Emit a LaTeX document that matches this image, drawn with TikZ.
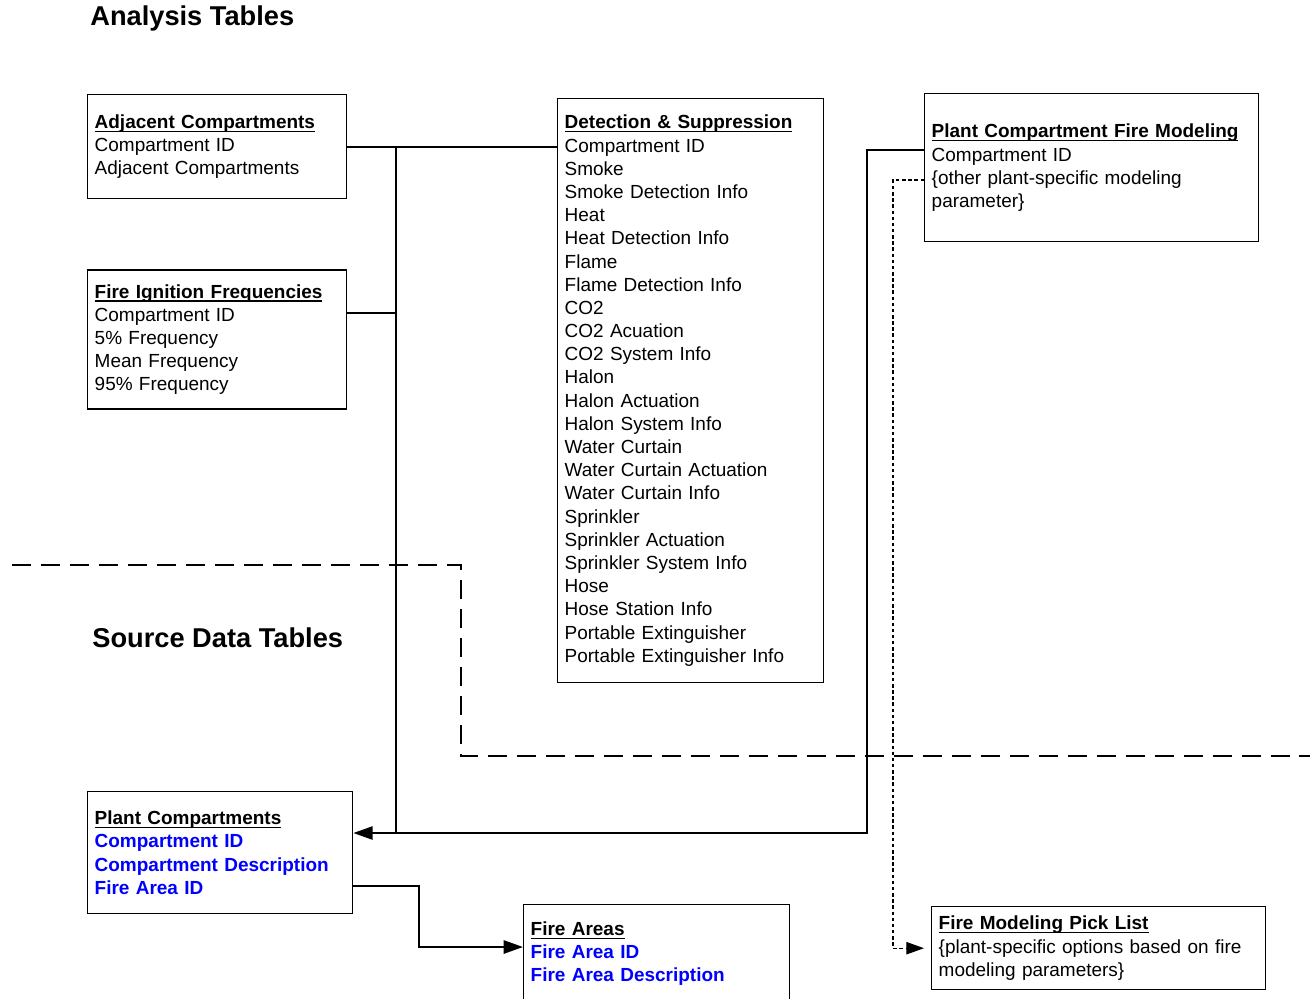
\documentclass[tikz,border=0pt]{standalone}
\usepackage{fontspec}
\setmainfont{Liberation Sans}
\usepackage{xcolor}
\usepackage{tikz}
\usetikzlibrary{arrows.meta, calc}

\definecolor{keyblue}{RGB}{0,0,255}
\newcommand{\tabfont}{\fontsize{10.8}{13.2}\selectfont}
\newcommand{\hd}[1]{\sbox0{\textbf{#1}}\rlap{\rule[-2pt]{\wd0}{0.8pt}}\usebox0}
\newcommand{\fld}[1]{\textcolor{keyblue}{\textbf{#1}}}

\begin{document}
\begin{tikzpicture}[x=0.02cm, y=-0.02cm,
    table/.style={draw, line width=0.8pt, anchor=north west, align=left,
        inner xsep=0.14cm, inner ysep=0pt, font=\tabfont},
    link/.style={line width=1.2pt},
    pick/.style={line width=0.6pt, dash pattern=on 2pt off 1.5pt},
    bigtip/.style={-{Triangle[length=11pt, width=7.5pt]}},
    smalltip/.style={-{Triangle[length=10pt, width=7pt]}, shorten >=4pt},
    title/.style={anchor=west, inner sep=0pt, font=\fontsize{15.5}{18}\selectfont\bfseries}]
    \useasboundingbox (0,0) rectangle (1310,998);

    % titel
    \node[title] (ana) at (90,18) {Analysis Tables};
    \node[title] (src) at (92,638) {Source Data Tables};

    % grens tussen analyse- en brontabellen
    \draw[line width=1.1pt, dash pattern=on 11pt off 5.5pt]
        (12,565) -- (461,565) -- (461,756) -- (1310,756);

    % analysetabellen
    \node[table, text width=4.90cm, minimum width=5.18cm, minimum height=2.08cm] (adj) at (87,94)
        {\hd{Adjacent Compartments}\\Compartment ID\\Adjacent Compartments};
    \node[table, text width=4.90cm, minimum width=5.18cm, minimum height=2.78cm] (fif) at ($(adj.south west)+(0,70)$)
        {\hd{Fire Ignition Frequencies}\\Compartment ID\\5\% Frequency\\Mean Frequency\\95\% Frequency};
    \node[table, text width=5.04cm, minimum width=5.32cm, minimum height=11.68cm] (det) at (557,98)
        {\hd{Detection \& Suppression}\\Compartment ID\\Smoke\\Smoke Detection Info\\Heat\\
         Heat Detection Info\\Flame\\Flame Detection Info\\CO2\\CO2 Acuation\\CO2 System Info\\
         Halon\\Halon Actuation\\Halon System Info\\Water Curtain\\Water Curtain Actuation\\
         Water Curtain Info\\Sprinkler\\Sprinkler Actuation\\Sprinkler System Info\\Hose\\
         Hose Station Info\\Portable Extinguisher\\Portable Extinguisher Info};
    \node[table, text width=6.40cm, minimum width=6.68cm, minimum height=2.96cm] (pcfm) at (924,93)
        {\hd{Plant Compartment Fire Modeling}\\Compartment ID\\\{other plant-specific modeling\\parameter\}};

    % brontabellen
    \node[table, text width=5.02cm, minimum width=5.30cm, minimum height=2.44cm] (pc) at (87,791)
        {\hd{Plant Compartments}\\\fld{Compartment ID}\\\fld{Compartment Description}\\\fld{Fire Area ID}};
    \node[table, text width=5.04cm, minimum width=5.32cm, minimum height=1.96cm] (fa) at (523,904)
        {\hd{Fire Areas}\\\fld{Fire Area ID}\\\fld{Fire Area Description}};
    \node[table, text width=6.40cm, minimum width=6.68cm, minimum height=1.66cm] (fmpl) at (931,906)
        {\hd{Fire Modeling Pick List}\\\{plant-specific options based on fire\\modeling parameters\}};

    % aansluitpunten
    \coordinate (bus top) at (396,146);
    \coordinate (bus bot) at (396,833);
    \coordinate (drop) at (867,833);
    \coordinate (fif key) at ($(fif.north east)+(0,44)$);
    \coordinate (pcfm key) at ($(pcfm.north west)+(0,57)$);
    \coordinate (pcfm opt) at ($(pcfm.north west)+(0,87)$);
    \coordinate (pc fa) at ($(pc.north east)+(0,95)$);
    \coordinate (fa key) at ($(fa.north west)+(0,43)$);

    % verbindingen
    \draw[link] (adj.east) -- (det.west |- adj.east);
    \draw[link] (bus top) -- (bus bot);
    \draw[link] (fif key) -- (fif key -| bus top);
    \draw[link, bigtip] (pcfm key) -| (drop) -- (pc.east |- drop);
    \draw[link, bigtip] (pc fa) -- ++(66,0) |- (fa key);
    \draw[pick, smalltip] (pcfm opt) -- ++(-31,0) |- (fmpl.west);
\end{tikzpicture}
\end{document}
